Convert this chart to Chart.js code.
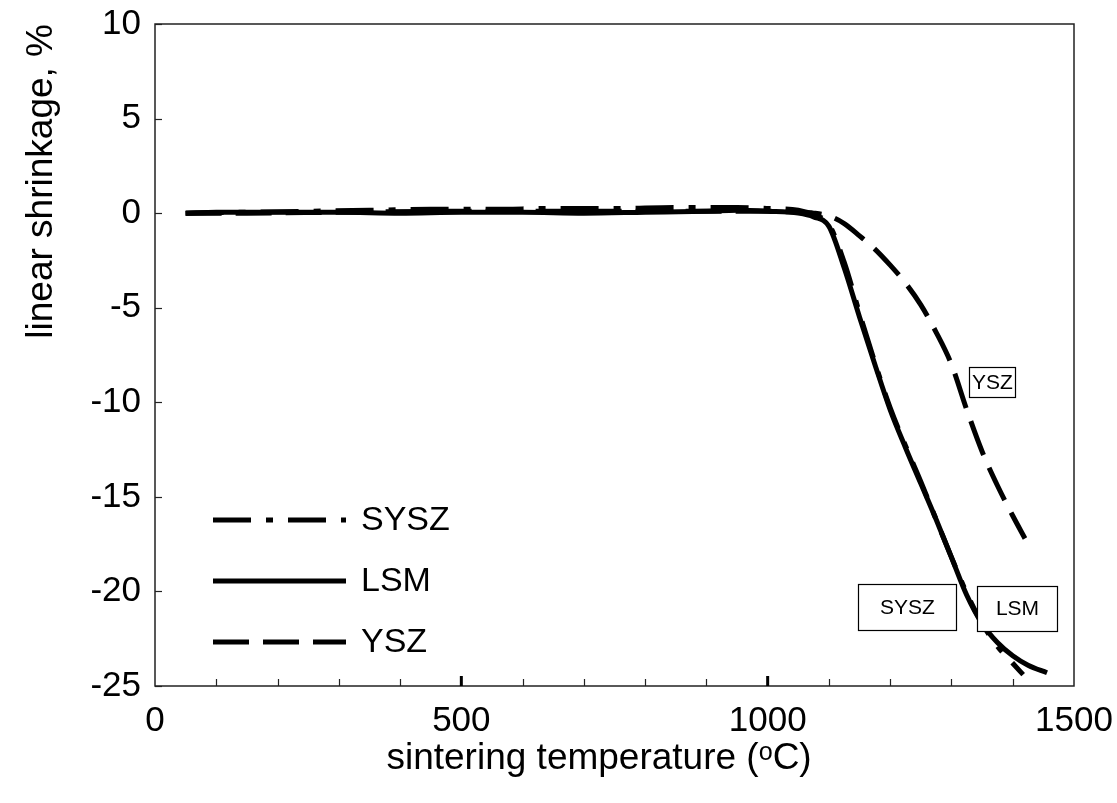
<!DOCTYPE html>
<html>
<head>
<meta charset="utf-8">
<script src="https://cdn.jsdelivr.net/npm/chart.js@4.4.1/dist/chart.umd.min.js"></script>
<style>
  html, body { margin: 0; padding: 0; background: #fff; }
  #wrap { width: 1117px; height: 803px; }
</style>
</head>
<body>
<div id="wrap"><canvas id="c" width="1117" height="803"></canvas></div>
<script>
// ---- data ----
const seriesNames = ['SYSZ', 'LSM', 'YSZ'];

const lsmTemp = [50, 100, 200, 300, 400, 500, 600, 700, 800, 900, 950, 1000, 1050, 1075, 1100, 1125, 1150, 1175, 1200, 1225, 1250, 1275, 1300, 1325, 1350, 1375, 1400, 1425, 1456];
const lsmShrink = [0, 0.05, 0.05, 0.05, 0.0, 0.05, 0.05, 0.0, 0.05, 0.1, 0.15, 0.1, 0.0, -0.2, -0.7, -2.9, -5.5, -8.0, -10.4, -12.4, -14.3, -16.2, -18.2, -20.2, -21.7, -22.7, -23.4, -23.9, -24.3];

const syszTemp = [50, 150, 250, 350, 450, 550, 650, 750, 850, 950, 1000, 1050, 1075, 1100, 1125, 1150, 1175, 1200, 1225, 1250, 1275, 1300, 1325, 1350, 1375, 1400, 1417];
const syszShrink = [0, 0.05, 0.1, 0.15, 0.2, 0.2, 0.25, 0.25, 0.3, 0.3, 0.25, 0.15, -0.1, -0.6, -2.6, -5.3, -7.9, -10.3, -12.3, -14.2, -16.2, -18.2, -20.1, -21.7, -22.9, -23.8, -24.4];

const yszTemp = [50, 150, 300, 500, 700, 900, 1000, 1050, 1075, 1100, 1125, 1150, 1175, 1200, 1225, 1250, 1275, 1300, 1325, 1350, 1375, 1400, 1420];
const yszShrink = [0, 0, 0.05, 0.1, 0.1, 0.1, 0.1, 0.05, 0, -0.15, -0.55, -1.2, -1.9, -2.75, -3.7, -4.85, -6.3, -8.0, -10.4, -12.6, -14.4, -16.0, -17.2];

const xTicks = [0, 500, 1000, 1500];
const yTicks = [-25, -20, -15, -10, -5, 0, 5, 10];
const xMinorTicks = [100, 200, 300, 400, 600, 700, 800, 900, 1100, 1200, 1300, 1400];
const xMajorInner = [500, 1000];

const boxLabels = ['YSZ', 'SYSZ', 'LSM'];

// ---- styling ----
const FONT = "'Liberation Sans', Arial, sans-serif";
const pts = (xs, ys) => xs.map((x, i) => ({ x: x, y: ys[i] }));

const dashSYSZ = [38, 15, 7, 15];
const dashYSZ = [36, 14];

const datasets = [
  { label: seriesNames[1], data: pts(lsmTemp, lsmShrink), borderDash: [] },
  { label: seriesNames[0], data: pts(syszTemp, syszShrink), borderDash: dashSYSZ },
  { label: seriesNames[2], data: pts(yszTemp, yszShrink), borderDash: dashYSZ }
].map(d => Object.assign(d, {
  borderColor: '#000', borderWidth: 5, pointRadius: 0, fill: false,
  cubicInterpolationMode: 'monotone', borderCapStyle: 'butt', borderJoinStyle: 'round'
}));

const decor = {
  id: 'decor',
  afterDatasetsDraw(chart) {
    const ctx = chart.ctx;
    const xs = chart.scales.x, ys = chart.scales.y;
    const a = chart.chartArea;
    ctx.save();
    // frame
    ctx.strokeStyle = '#222';
    ctx.lineWidth = 1.5;
    ctx.strokeRect(a.left, a.top, a.right - a.left, a.bottom - a.top);
    // y ticks (inside)
    ctx.lineWidth = 1.2;
    yTicks.forEach(v => {
      const y = Math.round(ys.getPixelForValue(v)) + 0.5;
      ctx.beginPath(); ctx.moveTo(a.left, y); ctx.lineTo(a.left + 7, y); ctx.stroke();
    });
    // x minor ticks
    xMinorTicks.forEach(v => {
      const x = Math.round(xs.getPixelForValue(v)) + 0.5;
      ctx.beginPath(); ctx.moveTo(x, a.bottom); ctx.lineTo(x, a.bottom - 7); ctx.stroke();
    });
    ctx.lineWidth = 3;
    ctx.strokeStyle = '#000';
    xMajorInner.forEach(v => {
      const x = xs.getPixelForValue(v);
      ctx.beginPath(); ctx.moveTo(x, a.bottom); ctx.lineTo(x, a.bottom - 10); ctx.stroke();
    });

    // text boxes
    const boxes = [
      { t: boxLabels[0], l: 969, tp: 367, w: 46, h: 30 },
      { t: boxLabels[1], l: 858, tp: 584, w: 98, h: 46 },
      { t: boxLabels[2], l: 977, tp: 586, w: 80, h: 45 }
    ];
    ctx.font = '21px ' + FONT;
    ctx.textAlign = 'center';
    ctx.textBaseline = 'middle';
    boxes.forEach(b => {
      ctx.fillStyle = '#fff';
      ctx.fillRect(b.l, b.tp, b.w, b.h);
      ctx.strokeStyle = '#000';
      ctx.lineWidth = 1.2;
      ctx.strokeRect(b.l + 0.5, b.tp + 0.5, b.w, b.h);
      ctx.fillStyle = '#000';
      ctx.fillText(b.t, b.l + b.w / 2 + 0.5, b.tp + b.h / 2 + 1);
    });

    // legend
    const order = [1, 0, 2];
    const rows = [520, 581, 642];
    ctx.font = '34px ' + FONT;
    ctx.textAlign = 'left';
    order.forEach((di, i) => {
      const ds = chart.data.datasets[di];
      ctx.strokeStyle = '#000';
      ctx.lineWidth = 5;
      ctx.lineCap = 'butt';
      ctx.setLineDash(ds.borderDash || []);
      ctx.beginPath();
      ctx.moveTo(213, rows[i]); ctx.lineTo(346, rows[i]);
      ctx.stroke();
      ctx.setLineDash([]);
      ctx.fillStyle = '#000';
      ctx.fillText(ds.label, 361, rows[i] + 1);
    });
    ctx.restore();
  }
};

new Chart(document.getElementById('c'), {
  type: 'line',
  data: { datasets: datasets },
  options: {
    responsive: false,
    animation: false,
    layout: { padding: { top: 24, right: 43, left: 0, bottom: 0 } },
    plugins: { legend: { display: false }, tooltip: { enabled: false } },
    scales: {
      x: {
        type: 'linear', min: 0, max: 1500,
        afterBuildTicks: s => { s.ticks = xTicks.map(v => ({ value: v })); },
        afterFit: s => { s.height = 117; s.paddingLeft = 0; s.paddingRight = 0; },
        grid: { display: false, drawTicks: false },
        border: { display: false },
        ticks: { color: '#000', font: { family: FONT, size: 35 }, padding: 14, maxRotation: 0, autoSkip: false, callback: v => String(v) },
        title: { display: true, text: 'sintering temperature (ᵒC)\u00a0\u00a0\u00a0', color: '#000', font: { family: FONT, size: 37 }, padding: { top: 2, bottom: 22 } }
      },
      y: {
        min: -25, max: 10,
        afterBuildTicks: s => { s.ticks = yTicks.map(v => ({ value: v })); },
        afterFit: s => { s.width = 155; s.paddingTop = 0; s.paddingBottom = 0; },
        grid: { display: false, drawTicks: false },
        border: { display: false },
        ticks: { color: '#000', font: { family: FONT, size: 35 }, padding: 14, callback: v => String(v) },
        title: { display: true, text: 'linear shrinkage, %', align: 'end', color: '#000', font: { family: FONT, size: 37 }, padding: { top: 20, bottom: 20 } }
      }
    }
  },
  plugins: [decor]
});
</script>
</body>
</html>
